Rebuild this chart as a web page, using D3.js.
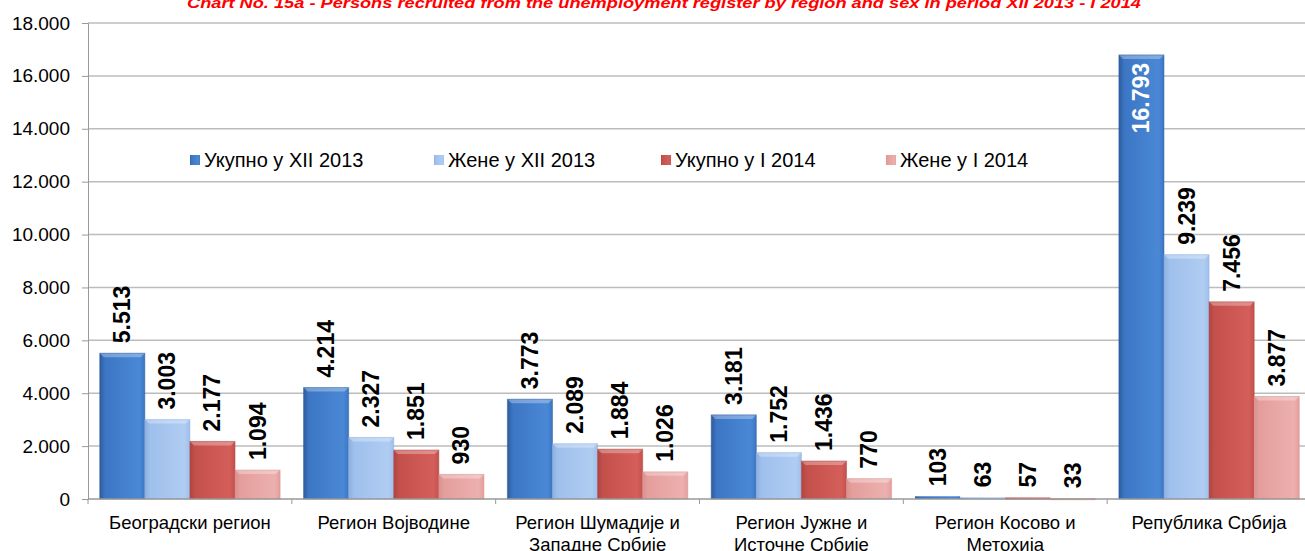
<!DOCTYPE html>
<html>
<head>
<meta charset="utf-8">
<script src="https://cdn.jsdelivr.net/npm/d3@7"></script>
<style>
  body { margin: 0; background: #fff; }
  text { font-family: Arial, 'Liberation Sans', sans-serif; }
</style>
</head>
<body>
<div id="chart"></div>
<script>
let regions = [
  ['Београдски регион'],
  ['Регион Војводине'],
  ['Регион Шумадије и', 'Западне Србије'],
  ['Регион Јужне и', 'Источне Србије'],
  ['Регион Косово и', 'Метохија'],
  ['Република Србија']
]
let seriesNames = ['Укупно у XII 2013', 'Жене у XII 2013', 'Укупно у I 2014', 'Жене у I 2014']
let totalXII = [5513, 4214, 3773, 3181, 103, 16793]
let womenXII = [3003, 2327, 2089, 1752, 63, 9239]
let totalI = [2177, 1851, 1884, 1436, 57, 7456]
let womenI = [1094, 930, 1026, 770, 33, 3877]
let yTicks = [0, 2000, 4000, 6000, 8000, 10000, 12000, 14000, 16000, 18000]

let series = [totalXII, womenXII, totalI, womenI]
let colors = [
  { dark: '#2d5c9c', base: '#3c76c4', light: '#4a88d6' },
  { dark: '#8cb0e0', base: '#9ec0ec', light: '#b0ccf2' },
  { dark: '#b04442', base: '#c4504c', light: '#d45e5a' },
  { dark: '#d99290', base: '#e49e9c', light: '#ecb0ae' }
]

let width = 1305
let height = 551
let margin = { top: 23, left: 88, right: -6, bottom: 52 }

let svg = d3
  .select('#chart')
  .append('svg')
  .attr('width', width)
  .attr('height', height)

let fmt = d3.formatLocale({ decimal: ',', thousands: '.', grouping: [3], currency: ['', ''] }).format(',d')

let defs = svg.append('defs')
colors.forEach((c, i) => {
  let g = defs.append('linearGradient').attr('id', 'grad' + i)
    .attr('x1', 0).attr('x2', 1).attr('y1', 0).attr('y2', 0)
  g.append('stop').attr('offset', '0%').attr('stop-color', c.dark)
  g.append('stop').attr('offset', '12%').attr('stop-color', c.base)
  g.append('stop').attr('offset', '88%').attr('stop-color', c.light)
  g.append('stop').attr('offset', '100%').attr('stop-color', c.base)
})

let x0 = d3.scaleBand()
  .domain(d3.range(regions.length))
  .range([margin.left, width - margin.right])
  .paddingInner(0.115)
  .paddingOuter(0.0575)

let x1 = d3.scaleBand()
  .domain(d3.range(series.length))
  .range([0, x0.bandwidth()])

let y = d3.scaleLinear()
  .domain([0, 18000])
  .range([height - margin.bottom, margin.top])

// title
svg.append('text')
  .attr('x', 664)
  .attr('y', 8)
  .attr('text-anchor', 'middle')
  .attr('fill', '#ff0000')
  .attr('font-size', 14)
  .attr('font-weight', 'bold')
  .attr('font-style', 'italic')
  .attr('textLength', 954)
  .attr('lengthAdjust', 'spacingAndGlyphs')
  .text('Chart No. 15a -  Persons recruited from the unemployment register by region and sex in period XII 2013 - I 2014')

// gridlines
svg.append('g')
  .selectAll('line')
  .data(yTicks.slice(1))
  .enter()
  .append('line')
  .attr('x1', margin.left)
  .attr('x2', width)
  .attr('y1', d => y(d))
  .attr('y2', d => y(d))
  .attr('stroke', '#bcbcbc')
  .attr('stroke-width', 1.5)

// y axis
let yAxis = svg.append('g')
  .attr('transform', `translate(${margin.left},0)`)
  .call(d3.axisLeft(y).tickValues(yTicks).tickFormat(fmt).tickSize(6).tickPadding(12))
yAxis.select('.domain').attr('stroke', '#999')
yAxis.selectAll('.tick line').attr('stroke', '#999')
yAxis.selectAll('text').attr('font-size', 19).attr('fill', '#000')
  .attr('font-family', 'Arial, Liberation Sans, sans-serif')

// bars
let groups = svg.append('g')
  .selectAll('.group')
  .data(regions)
  .enter()
  .append('g')
  .attr('class', 'group')
  .attr('transform', (d, i) => `translate(${x0(i)},0)`)

groups.each(function(d, i) {
  let g = d3.select(this)
  series.forEach((s, j) => {
    let v = s[i]
    let bx = x1(j)
    let bw = x1.bandwidth()
    let top = y(v)
    let h = y(0) - top
    g.append('rect')
      .attr('x', bx)
      .attr('y', top)
      .attr('width', bw)
      .attr('height', Math.max(h, 2))
      .attr('fill', `url(#grad${j})`)
    if (h > 6) {
      // top bevel
      g.append('path')
        .attr('d', `M${bx},${top}L${bx + bw},${top}L${bx + bw - 4},${top + 4}L${bx + 4},${top + 4}Z`)
        .attr('fill', '#fff')
        .attr('opacity', 0.3)
      g.append('rect')
        .attr('x', bx)
        .attr('y', top)
        .attr('width', bw)
        .attr('height', h)
        .attr('fill', 'none')
        .attr('stroke', colors[j].dark)
        .attr('stroke-opacity', 0.5)
    }
    let inside = v > 15000
    let cx = bx + bw / 2
    let ly = inside ? top + 8 : top - 10
    g.append('text')
      .attr('transform', `translate(${cx},${ly}) rotate(-90)`)
      .attr('text-anchor', inside ? 'end' : 'start')
      .attr('dominant-baseline', 'central')
      .attr('font-size', 23)
      .attr('font-weight', 'bold')
      .attr('fill', inside ? '#fff' : '#000')
      .text(fmt(v))
  })
})

// x axis
let base = y(0)
svg.append('line')
  .attr('x1', margin.left).attr('x2', width)
  .attr('y1', base).attr('y2', base)
  .attr('stroke', '#999').attr('stroke-width', 1.5)

svg.append('g')
  .selectAll('line')
  .data(d3.range(regions.length + 1))
  .enter()
  .append('line')
  .attr('x1', i => margin.left + i * (x0.step()))
  .attr('x2', i => margin.left + i * (x0.step()))
  .attr('y1', base)
  .attr('y2', base + 5)
  .attr('stroke', '#999')

groups.each(function(d) {
  let t = d3.select(this).append('text')
    .attr('text-anchor', 'middle')
    .attr('font-size', 18.5)
    .attr('fill', '#000')
  d.forEach((line, k) => {
    t.append('tspan')
      .attr('x', x0.bandwidth() / 2)
      .attr('y', 529 + k * 22)
      .text(line)
  })
})

// legend
let legendX = [190, 434, 661, 886]
let legend = svg.append('g').attr('transform', 'translate(0,160)')
legend.selectAll('.legend-entry')
  .data(seriesNames)
  .enter()
  .append('g')
  .attr('class', 'legend-entry')
  .attr('transform', (d, i) => `translate(${legendX[i]},0)`)
  .each(function(d, i) {
    let g = d3.select(this)
    g.append('rect')
      .attr('x', 0).attr('y', -5)
      .attr('width', 10).attr('height', 10)
      .attr('fill', `url(#grad${i})`)
    g.append('text')
      .attr('x', 14)
      .attr('y', 0)
      .attr('dominant-baseline', 'central')
      .attr('font-size', 20)
      .text(d)
  })
</script>
</body>
</html>
